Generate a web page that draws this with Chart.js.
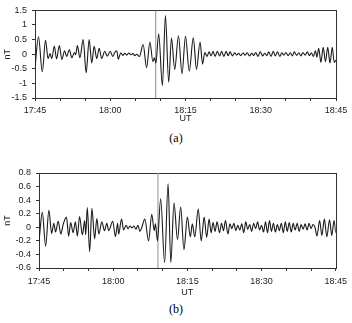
<!DOCTYPE html>
<html>
<head>
<meta charset="utf-8">
<script src="https://cdn.jsdelivr.net/npm/chart.js@4/dist/chart.umd.min.js"></script>
<style>
body{margin:0;background:#fff;width:352px;height:323px;position:relative;overflow:hidden}
canvas{position:absolute;left:0}
.lab{position:absolute;left:0;width:352px;text-align:center;font-family:"Liberation Serif","Times New Roman",serif;font-size:12px;color:#000}
</style>
</head>
<body>
<canvas id="chartA" width="352" height="130" style="top:0"></canvas>
<canvas id="chartB" width="352" height="140" style="top:160px"></canvas>
<div class="lab" style="top:131px">(a)</div>
<div class="lab" style="top:302px">(b)</div>
<script>
// minutes after 17:45 UT
var xTickLabels = ['17:45','18:00','18:15','18:30','18:45']
var eventTime = 24.05

// panel (a), nT
var timeA = [0,0.7,1.45,2.1,2.6,3.0,3.35,3.85,4.3,4.85,5.35,5.9,6.3,6.85,7.35,7.85,8.1,8.45,8.95,9.6,10.2,10.8,11.3,11.8,12.3,12.8,13.3,13.9,14.4,15.0,15.5,15.9,16.3,16.6,17.1,17.5,17.9,18.3,18.7,19.1,19.5,19.9,20.3,20.8,21.55,22.25,22.9,23.5,23.8,24.1,24.65,25.4,26.0,26.65,27.2,27.85,28.6,29.3,30.0,30.75,31.55,32.2,32.9,33.4,33.85,34.3,34.7,35.1,35.5,35.9,36.35,36.8,37.2,37.65,38.1,38.5,38.9,39.35,39.8,40.2,40.6,41.0,41.45,41.9,42.3,42.75,43.2,43.6,44.0,44.45,44.9,45.35,45.8,46.2,46.6,47.05,47.5,47.9,48.35,48.8,49.2,49.6,50.0,50.45,50.9,51.3,51.7,52.15,52.6,53.0,53.4,53.85,54.3,54.7,55.1,55.5,55.9,56.2,56.55,57.0,57.45,57.9,58.35,58.8,59.25,59.65,60]
var nTA = [-0.45,0.6,-0.6,0.48,-0.15,0.02,-0.15,0.28,-0.16,0.3,-0.18,0.12,-0.08,0.15,-0.12,0.06,-0.02,0.3,-0.12,0.5,-0.63,0.5,-0.3,0.27,-0.15,0.2,-0.15,0.1,-0.07,0.1,-0.08,0.06,0.12,-0.17,0.05,-0.04,0.03,-0.03,0.04,-0.02,0.02,-0.05,0.0,-0.08,0.33,-0.46,0.42,-0.25,-0.12,-0.3,0.7,-1.07,1.32,-0.96,0.55,-0.52,0.63,-0.67,0.61,-0.58,0.56,-0.52,0.42,-0.34,0.06,-0.08,0.08,-0.06,0.1,-0.08,0.1,-0.06,0.1,-0.08,0.1,-0.05,0.08,-0.06,0.05,-0.03,0.03,-0.05,0.04,-0.03,0.05,-0.06,0.03,-0.04,0.06,-0.08,0.08,-0.06,0.03,-0.05,0.08,-0.08,0.1,-0.06,0.08,-0.08,0.05,-0.03,0.06,-0.05,0.05,-0.06,0.08,-0.04,0.05,-0.06,0.06,-0.03,0.08,-0.05,0.05,-0.08,0.12,-0.1,0.2,-0.28,0.24,-0.26,0.24,-0.3,0.24,-0.28,-0.2]

// panel (b), nT
var timeB = [0,0.67,1.34,2.0,2.55,3.0,3.35,3.88,4.42,4.88,5.55,6.0,6.4,6.9,7.36,7.76,8.2,8.77,9.24,9.44,9.77,10.24,10.7,11.24,11.7,12.1,12.7,13.25,13.7,14.1,14.9,15.46,15.9,16.1,16.7,17.1,17.6,18.0,18.4,18.8,19.2,19.6,20.0,20.4,20.8,21.4,22.15,22.8,23.3,23.55,23.95,24.6,25.4,26.1,26.65,27.3,28.0,28.65,29.3,30.0,30.6,31.0,31.5,32.2,32.8,33.4,33.9,34.4,34.8,35.2,35.6,36.0,36.5,36.9,37.3,37.7,38.2,38.6,39.0,39.4,39.8,40.2,40.6,41.0,41.4,41.8,42.2,42.6,43.0,43.4,43.8,44.2,44.6,45.0,45.4,45.8,46.2,46.6,47.0,47.4,47.8,48.2,48.6,49.0,49.4,49.8,50.2,50.6,51.0,51.4,51.8,52.2,52.6,53.0,53.4,53.8,54.2,54.6,55.0,55.4,55.8,56.2,56.75,57.2,57.7,58.2,58.75,59.2,59.65,60]
var nTB = [-0.21,0.22,-0.28,0.25,-0.09,0.06,-0.07,0.09,-0.1,0.04,0.15,-0.13,0.07,-0.08,0.08,-0.13,0.16,-0.11,0.1,-0.11,0.29,-0.36,0.28,-0.17,0.13,-0.1,0.08,-0.05,0.06,-0.05,0.09,-0.14,0.06,-0.1,0.12,-0.04,0.03,-0.02,0.02,-0.01,0.02,-0.03,0.03,-0.06,0.0,0.12,-0.2,0.19,-0.05,0.05,-0.2,0.42,-0.52,0.64,-0.52,0.36,-0.18,0.3,-0.33,0.15,-0.14,0.05,-0.14,0.27,-0.2,0.15,-0.15,0.12,-0.08,0.07,-0.06,0.08,-0.08,0.06,-0.05,0.1,-0.1,0.05,-0.02,0.06,-0.05,0.03,-0.04,0.05,-0.08,0.08,-0.03,0.04,-0.06,0.06,-0.02,0.08,-0.04,0.03,-0.07,0.08,-0.08,0.1,-0.06,0.06,-0.07,0.04,-0.05,0.06,-0.08,0.08,-0.06,0.07,-0.07,0.06,-0.04,0.06,-0.06,0.04,-0.03,0.05,-0.04,0.06,-0.02,0.04,0.0,-0.13,0.1,-0.12,0.12,-0.14,0.11,-0.12,0.1,-0.08]

var frame = {
  id:'frame',
  beforeDatasetsDraw:function(chart){
    var a = chart.chartArea, c = chart.ctx
    c.save()
    c.strokeStyle = '#333'
    c.lineWidth = 1
    c.strokeRect(Math.round(a.left)+0.5, Math.round(a.top)+0.5, Math.round(a.right-a.left), Math.round(a.bottom-a.top))
    c.restore()
  }
}

function makeChart(id, times, values, yMin, yMax, yStep, o){
  var pts = times.map(function(t,i){ return {x:t, y:values[i]} })
  return new Chart(document.getElementById(id).getContext('2d'), {
    type:'line',
    data:{datasets:[
      {data:pts, borderColor:'#1a1a1a', borderWidth:1.1, pointRadius:0, cubicInterpolationMode:'monotone'},
      {data:[{x:eventTime,y:yMin},{x:eventTime,y:yMax}], borderColor:'#a0a0a0', borderWidth:1.2, pointRadius:0}
    ]},
    options:{
      responsive:false, animation:false, devicePixelRatio:1,
      layout:{padding:{left:0, right:o.right, top:o.top, bottom:o.bottom}},
      plugins:{legend:{display:false}, tooltip:{enabled:false}},
      scales:{
        x:{type:'linear', min:0, max:60,
          afterFit:function(s){ s.height = o.xh },
          grid:{drawOnChartArea:false, drawTicks:true, tickLength:3, color:'#333'},
          border:{display:false},
          ticks:{stepSize:5, autoSkip:false, maxRotation:0, padding:o.xpad, color:'#222',
            font:{family:'Liberation Sans', size:9},
            callback:function(v){ return v % 15 === 0 ? xTickLabels[v/15] : '' }},
          title:{display:true, text:'UT', color:'#222', padding:0, font:{family:'Liberation Sans', size:9}}
        },
        y:{min:yMin, max:yMax,
          afterFit:function(s){ s.width = o.yw },
          grid:{drawOnChartArea:false, drawTicks:true, tickLength:3, color:'#333'},
          border:{display:false},
          ticks:{stepSize:yStep, autoSkip:false, padding:5, color:'#222', font:{family:'Liberation Sans', size:9},
            callback:function(v){ return String(+v.toFixed(1)) }},
          title:{display:true, text:'nT', color:'#222', padding:{top:2,bottom:0}, font:{family:'Liberation Sans', size:9}}
        }
      }
    },
    plugins:[frame]
  })
}

makeChart('chartA', timeA, nTA, -1.5, 1.5, 0.5, {right:16, top:7, bottom:6, xh:26, yw:35, xpad:4})
makeChart('chartB', timeB, nTB, -0.6, 0.8, 0.2, {right:14, top:13, bottom:2, xh:30, yw:39, xpad:5})
</script>
</body>
</html>
